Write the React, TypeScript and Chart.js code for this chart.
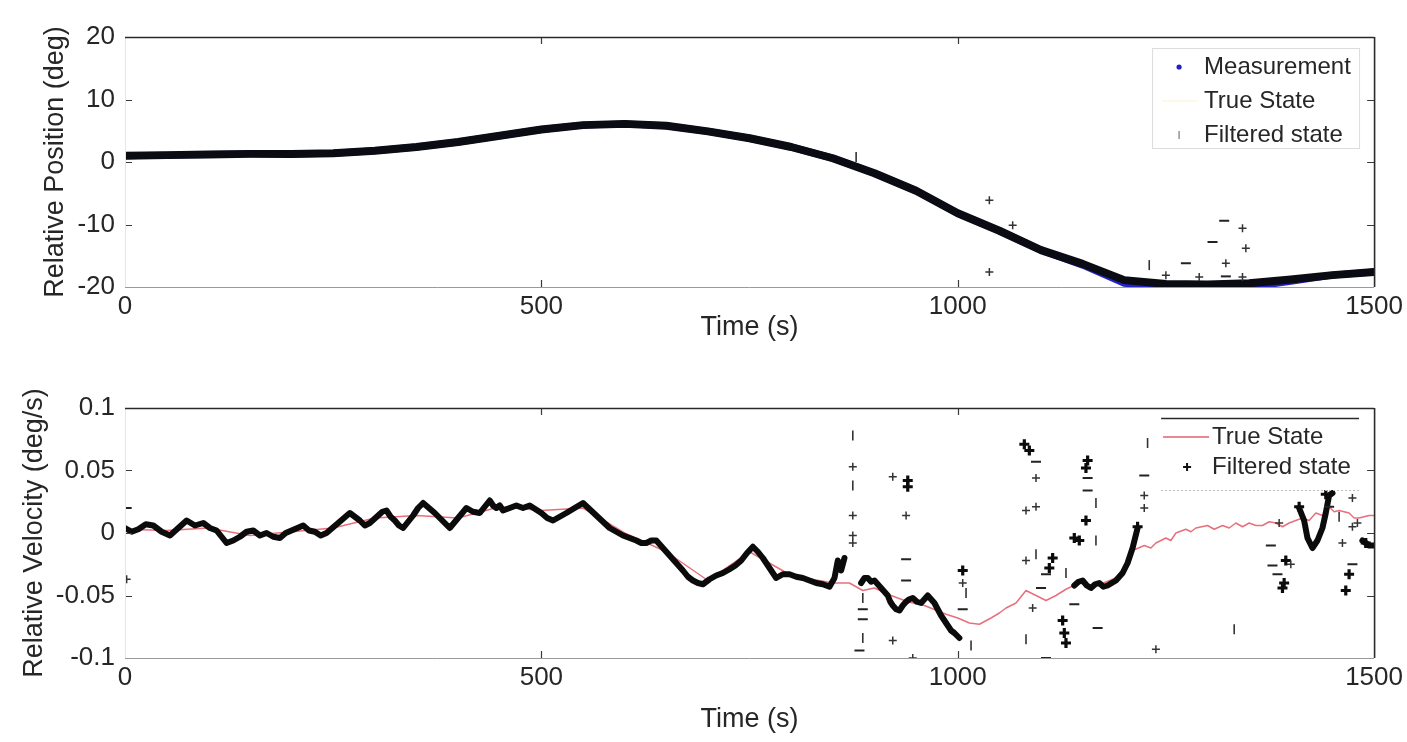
import React, { useEffect, useRef } from "react";
import { Chart, registerables } from "chart.js";

Chart.register(...registerables);

const FONT = '"Liberation Sans", Arial, Helvetica, sans-serif';
const TEXT = "#262626";

// ---------- shared axis ticks ----------
const timeTicks = [0, 500, 1000, 1500];
const timeTickLabels = ["0", "500", "1000", "1500"];
const posTicks = [-20, -10, 0, 10, 20];
const posTickLabels = ["-20", "-10", "0", "10", "20"];
const velTicks = [-0.1, -0.05, 0, 0.05, 0.1];
const velTickLabels = ["-0.1", "-0.05", "0", "0.05", "0.1"];

// ---------- top panel: relative position (deg) ----------
const posTime = [0, 50, 100, 150, 200, 250, 300, 350, 400, 450, 500, 550, 600, 650, 700, 750, 800, 850, 900, 950, 1000, 1050, 1100, 1150, 1200, 1250, 1300, 1350, 1400, 1450, 1500];
const posFiltered = [1.0, 1.1, 1.2, 1.3, 1.3, 1.4, 1.8, 2.4, 3.2, 4.2, 5.2, 5.9, 6.1, 5.8, 4.9, 3.8, 2.4, 0.6, -1.8, -4.6, -8.2, -11.0, -14.1, -16.3, -18.9, -19.5, -19.6, -19.4, -18.8, -18.1, -17.6];
const posMeasured = [1.0, 1.1, 1.2, 1.3, 1.3, 1.4, 1.8, 2.4, 3.2, 4.2, 5.2, 5.9, 6.1, 5.8, 4.9, 3.8, 2.4, 0.6, -1.8, -4.6, -8.2, -11.0, -14.1, -16.5, -19.4, -20.1, -20.2, -20.0, -19.1, -18.1, -17.6];
const posTrue = [1.0, 1.1, 1.2, 1.3, 1.3, 1.4, 1.8, 2.4, 3.2, 4.2, 5.2, 5.9, 6.1, 5.8, 4.9, 3.8, 2.4, 0.6, -1.8, -4.6, -8.2, -11.0, -14.1, -16.3, -19.0, -19.8, -19.9, -19.7, -18.9, -18.1, -17.6];
const posPlusTime = [1038, 1066, 1038, 1250, 1290, 1322, 1342, 1346, 1342];
const posPlusValue = [-6.1, -10.1, -17.6, -18.1, -18.4, -16.2, -10.6, -13.8, -18.4];
const posDashTime = [1306, 1320, 1274, 1322];
const posDashValue = [-12.8, -9.4, -16.2, -18.3];
const posBarTime = [878, 1230];
const posBarValue = [0.8, -16.5];

// ---------- bottom panel: relative velocity (deg/s) ----------
const velBandTime = [0, 8, 16, 25, 34, 44, 54, 64, 74, 84, 94, 102, 110, 116, 122, 130, 138, 146, 154, 162, 170, 178, 186, 193, 200, 207, 214, 221, 228, 235, 242, 249, 256, 263, 270, 276, 282, 288, 294, 299, 304, 309, 314, 319, 324, 329, 334, 340, 346, 352, 358, 365, 372, 381, 390, 395, 400, 405, 410, 418, 426, 432, 438, 442, 446, 450, 454, 462, 470, 478, 486, 493, 500, 507, 514, 522, 530, 540, 550, 558, 566, 574, 582, 590, 598, 606, 614, 620, 626, 632, 638, 646, 654, 662, 670, 676, 682, 688, 694, 702, 710, 718, 726, 733, 740, 747, 754, 760, 766, 774, 782, 790, 798, 806, 814, 822, 830, 838, 846, 852, 856, 860, 864, 870, 884, 888, 892, 896, 900, 904, 908, 912, 916, 919, 922, 926, 930, 934, 938, 942, 946, 951, 956, 960, 964, 968, 972, 976, 980, 984, 988, 992, 996, 1002, 1010, 1140, 1145, 1150, 1155, 1160, 1165, 1170, 1175, 1180, 1185, 1190, 1194, 1198, 1204, 1210, 1216, 1222, 1410, 1416, 1420, 1426, 1432, 1438, 1442, 1446, 1450, 1460, 1486, 1494, 1500];
const velBandValue = [0.004, 0.001, 0.003, 0.007, 0.006, 0.001, -0.002, 0.004, 0.010, 0.006, 0.008, 0.004, 0.002, -0.003, -0.008, -0.006, -0.003, 0.001, 0.002, -0.002, 0.000, -0.003, -0.004, 0.000, 0.002, 0.004, 0.006, 0.002, 0.001, -0.002, 0.000, 0.004, 0.008, 0.012, 0.016, 0.013, 0.010, 0.006, 0.008, 0.011, 0.014, 0.017, 0.018, 0.013, 0.010, 0.006, 0.004, 0.009, 0.014, 0.020, 0.024, 0.020, 0.016, 0.010, 0.004, 0.008, 0.012, 0.016, 0.020, 0.017, 0.016, 0.021, 0.026, 0.022, 0.020, 0.022, 0.018, 0.020, 0.022, 0.020, 0.022, 0.019, 0.016, 0.012, 0.010, 0.013, 0.016, 0.020, 0.024, 0.019, 0.014, 0.009, 0.004, 0.001, -0.002, -0.004, -0.006, -0.008, -0.008, -0.006, -0.006, -0.012, -0.018, -0.024, -0.030, -0.035, -0.038, -0.040, -0.041, -0.037, -0.034, -0.032, -0.029, -0.026, -0.022, -0.016, -0.011, -0.015, -0.020, -0.028, -0.036, -0.033, -0.033, -0.035, -0.036, -0.038, -0.040, -0.041, -0.043, -0.036, -0.022, -0.030, -0.020, null, -0.040, -0.036, -0.036, -0.039, -0.038, -0.041, -0.044, -0.047, -0.050, -0.055, -0.058, -0.061, -0.062, -0.058, -0.055, -0.053, -0.052, -0.055, -0.056, -0.053, -0.050, -0.053, -0.056, -0.061, -0.066, -0.070, -0.074, -0.078, -0.080, -0.084, null, -0.042, -0.039, -0.038, -0.042, -0.044, -0.041, -0.040, -0.043, -0.042, -0.040, -0.038, -0.035, -0.032, -0.024, -0.012, 0.004, null, 0.020, 0.010, -0.004, -0.012, -0.006, 0.004, 0.016, 0.030, 0.032, null, -0.006, -0.010, -0.010];
const velTrueTime = [0, 50, 100, 150, 200, 250, 300, 350, 400, 450, 500, 550, 600, 650, 700, 750, 800, 850, 870, 886, 900, 920, 940, 960, 986, 1000, 1014, 1026, 1040, 1050, 1058, 1070, 1082, 1094, 1106, 1118, 1130, 1146, 1160, 1175, 1190, 1200, 1210, 1224, 1232, 1238, 1250, 1256, 1262, 1274, 1280, 1286, 1300, 1308, 1318, 1326, 1334, 1342, 1350, 1358, 1366, 1374, 1382, 1390, 1398, 1406, 1414, 1422, 1430, 1438, 1446, 1452, 1458, 1470, 1476, 1482, 1494, 1500];
const velTrueValue = [0.003, 0.002, 0.004, -0.002, 0.001, 0.004, 0.012, 0.014, 0.012, 0.021, 0.018, 0.020, 0.000, -0.015, -0.038, -0.015, -0.034, -0.040, -0.040, -0.046, -0.044, -0.050, -0.055, -0.058, -0.065, -0.068, -0.072, -0.073, -0.068, -0.064, -0.060, -0.056, -0.046, -0.050, -0.054, -0.050, -0.045, -0.040, -0.042, -0.040, -0.036, -0.028, -0.014, -0.010, -0.012, -0.008, -0.004, -0.006, 0.000, 0.003, 0.001, 0.004, 0.006, 0.003, 0.006, 0.004, 0.008, 0.005, 0.008, 0.006, 0.006, 0.009, 0.008, 0.005, 0.008, 0.010, 0.012, 0.010, 0.016, 0.014, 0.021, 0.017, 0.018, 0.016, 0.012, 0.012, 0.014, 0.014];
const velPlusTime = [2, 874, 874, 874, 874, 922, 938, 922, 946, 1006, 1094, 1094, 1082, 1082, 1090, 1224, 1224, 1238, 1386, 1400, 1474, 1474, 1462, 1480];
const velPlusValue = [-0.037, 0.053, 0.014, -0.002, -0.008, 0.045, 0.014, -0.086, -0.100, -0.040, 0.044, 0.021, 0.018, -0.022, -0.060, 0.030, 0.020, -0.093, 0.008, -0.025, 0.028, 0.005, -0.008, 0.008];
const velBoldTime = [940, 940, 1006, 1086, 1080, 1114, 1110, 1126, 1128, 1130, 1156, 1154, 1154, 1146, 1140, 1216, 1390, 1392, 1394, 1410, 1470, 1466, 1490, 1442];
const velBoldValue = [0.042, 0.037, -0.030, 0.066, 0.071, -0.020, -0.028, -0.070, -0.080, -0.088, 0.058, 0.052, 0.010, -0.006, -0.004, 0.005, -0.044, -0.040, -0.022, 0.021, -0.033, -0.046, -0.008, 0.031];
const velDashTime = [2, 886, 886, 882, 938, 938, 1006, 1094, 1106, 1100, 1106, 1156, 1156, 1224, 1168, 1376, 1378, 1384, 1446, 1474, 1140];
const velDashValue = [0.020, -0.061, -0.069, -0.094, -0.021, -0.038, -0.061, 0.057, -0.033, -0.044, -0.100, 0.044, 0.034, 0.046, -0.076, -0.010, -0.026, -0.033, 0.021, -0.025, -0.057];
const velBarTime = [874, 874, 886, 886, 1010, 1016, 1094, 1166, 1166, 1130, 1228, 1332, 1458, 1082];
const velBarValue = [0.078, 0.038, -0.052, -0.084, -0.048, -0.090, -0.017, 0.024, -0.006, -0.032, 0.072, -0.077, 0.013, -0.085];

const xy = (ts: number[], vs: (number | null)[]) => ts.map((t, i) => ({ x: t, y: vs[i] }));

function lineSet(label: string, data: any, color: string, width: number, order: number) {
  return {
    label, data, order,
    borderColor: color, backgroundColor: color, borderWidth: width,
    pointRadius: 0, tension: 0, spanGaps: false,
    borderJoinStyle: "round", borderCapStyle: "round",
  };
}
function markSet(label: string, data: any, style: string, radius: number, width: number, color: string, order: number, rotation = 0) {
  return {
    label, data, order, showLine: false,
    pointStyle: style, pointRadius: radius, pointBorderWidth: width, pointRotation: rotation,
    pointBorderColor: color, pointBackgroundColor: color, borderColor: color, backgroundColor: color,
  };
}

const framePlugin = {
  id: "matlabFrame",
  afterDatasetsDraw(chart: any) {
    const { ctx, chartArea: a, scales } = chart;
    ctx.save();
    const L = 7;
    ctx.lineWidth = 1.2;
    ctx.strokeStyle = "#3a3a3a";
    ctx.beginPath();
    for (const t of scales.x.ticks) {
      const px = Math.round(scales.x.getPixelForValue(t.value)) + 0.5;
      if (px <= a.left + 2 || px >= a.right - 2) continue;
      ctx.moveTo(px, a.bottom); ctx.lineTo(px, a.bottom - L);
      ctx.moveTo(px, a.top); ctx.lineTo(px, a.top + L);
    }
    for (const t of scales.y.ticks) {
      const py = Math.round(scales.y.getPixelForValue(t.value)) + 0.5;
      if (py <= a.top + 2 || py >= a.bottom - 2) continue;
      ctx.moveTo(a.left, py); ctx.lineTo(a.left + L, py);
      ctx.moveTo(a.right, py); ctx.lineTo(a.right - L, py);
    }
    ctx.stroke();
    const seg = (x1: number, y1: number, x2: number, y2: number, c: string, w: number) => {
      ctx.beginPath(); ctx.strokeStyle = c; ctx.lineWidth = w;
      ctx.moveTo(x1, y1); ctx.lineTo(x2, y2); ctx.stroke();
    };
    seg(a.left, a.bottom + 0.5, a.right, a.bottom + 0.5, "#9a9a9a", 1);
    seg(a.left + 0.5, a.top, a.left + 0.5, a.bottom, "#e6e6e6", 1);
    seg(a.left, a.top + 0.5, a.right, a.top + 0.5, "#2a2a2a", 1.6);
    seg(a.right + 0.5, a.top, a.right + 0.5, a.bottom, "#2a2a2a", 1.6);
    ctx.restore();
  },
};

const topLegend = {
  id: "topLegend",
  afterDraw(chart: any) {
    const { ctx, chartArea: a } = chart;
    const x0 = a.right - 222, y0 = a.top + 11, w = 207, h = 100;
    ctx.save();
    ctx.fillStyle = "#fff";
    ctx.fillRect(x0, y0, w, h);
    ctx.strokeStyle = "#dcdcdc"; ctx.lineWidth = 1;
    ctx.strokeRect(x0 + 0.5, y0 + 0.5, w, h);
    ctx.font = `24px ${FONT}`;
    ctx.textBaseline = "middle";
    ctx.fillStyle = TEXT;
    const tx = x0 + 52;
    const rows = [y0 + 19, y0 + 53, y0 + 87];
    ctx.fillText("Measurement", tx, rows[0]);
    ctx.fillText("True State", tx, rows[1]);
    ctx.fillText("Filtered state", tx, rows[2]);
    ctx.fillStyle = "#2020c8";
    ctx.beginPath(); ctx.arc(x0 + 27, rows[0], 2.6, 0, Math.PI * 2); ctx.fill();
    ctx.strokeStyle = "rgba(250,235,170,0.6)"; ctx.lineWidth = 1;
    ctx.beginPath(); ctx.moveTo(x0 + 10, rows[1]); ctx.lineTo(x0 + 45, rows[1]); ctx.stroke();
    ctx.strokeStyle = "#777"; ctx.lineWidth = 1.2;
    ctx.beginPath(); ctx.moveTo(x0 + 27, rows[2] - 4); ctx.lineTo(x0 + 27, rows[2] + 4); ctx.stroke();
    ctx.restore();
  },
};

const bottomLegend = {
  id: "bottomLegend",
  afterDraw(chart: any) {
    const { ctx, chartArea: a } = chart;
    const x0 = a.right - 213, y0 = a.top + 10, w = 198, h = 72;
    ctx.save();
    ctx.fillStyle = "#fff";
    ctx.fillRect(x0, y0, w, h);
    ctx.strokeStyle = "#2a2a2a"; ctx.lineWidth = 1.5;
    ctx.beginPath(); ctx.moveTo(x0, y0 + 0.5); ctx.lineTo(x0 + w, y0 + 0.5); ctx.stroke();
    ctx.strokeStyle = "#bdbdbd"; ctx.lineWidth = 1; ctx.setLineDash([2, 2]);
    ctx.beginPath(); ctx.moveTo(x0, y0 + h + 0.5); ctx.lineTo(x0 + w, y0 + h + 0.5); ctx.stroke();
    ctx.setLineDash([]);
    const r1 = y0 + 19, r2 = y0 + 49;
    ctx.strokeStyle = "#e0606e"; ctx.lineWidth = 1.6;
    ctx.beginPath(); ctx.moveTo(x0 + 2, r1); ctx.lineTo(x0 + 48, r1); ctx.stroke();
    ctx.strokeStyle = "#111"; ctx.lineWidth = 2;
    ctx.beginPath();
    ctx.moveTo(x0 + 22, r2); ctx.lineTo(x0 + 30, r2);
    ctx.moveTo(x0 + 26, r2 - 4); ctx.lineTo(x0 + 26, r2 + 4);
    ctx.stroke();
    ctx.font = `24px ${FONT}`;
    ctx.textBaseline = "middle";
    ctx.fillStyle = TEXT;
    ctx.fillText("True State", x0 + 51, r1);
    ctx.fillText("Filtered state", x0 + 51, r2);
    ctx.restore();
  },
};

function makeScales(yTicks: number[], yLabels: string[], yMin: number, yMax: number, yTitle: string, xTitlePad: number, yTitlePad: number) {
  const tickFont = { family: FONT, size: 26 };
  const titleFont = { family: FONT, size: 27 };
  return {
    x: {
      type: "linear", min: 0, max: 1500,
      afterBuildTicks: (s: any) => { s.ticks = timeTicks.map((v) => ({ value: v })); },
      afterFit: (s: any) => { s.height = 84; },
      grid: { display: false, drawTicks: false },
      border: { display: false },
      ticks: { autoSkip: false, maxRotation: 0, font: tickFont, color: TEXT, padding: 4, callback: (_v: any, i: number) => timeTickLabels[i] },
      title: { display: true, text: "Time (s)", font: titleFont, color: TEXT, padding: { top: 0, bottom: xTitlePad } },
    },
    y: {
      type: "linear", min: yMin, max: yMax,
      afterBuildTicks: (s: any) => { s.ticks = yTicks.map((v) => ({ value: v })); },
      afterFit: (s: any) => { s.width = 125; },
      grid: { display: false, drawTicks: false },
      border: { display: false },
      ticks: { autoSkip: false, font: tickFont, color: TEXT, padding: 10, callback: (_v: any, i: number) => yLabels[i] },
      title: { display: true, text: yTitle, font: titleFont, color: TEXT, padding: { top: yTitlePad, bottom: 0 } },
    },
  };
}

function baseOptions(scales: any) {
  return {
    responsive: false,
    animation: false,
    events: [],
    layout: { padding: { top: 37, right: 32, left: 0, bottom: 0 } },
    plugins: { legend: { display: false }, tooltip: { enabled: false } },
    scales,
  };
}

export default function App() {
  const topRef = useRef<HTMLCanvasElement | null>(null);
  const botRef = useRef<HTMLCanvasElement | null>(null);

  useEffect(() => {
    const top = new Chart(topRef.current as HTMLCanvasElement, {
      type: "line",
      data: {
        datasets: [
          markSet("Filtered state +", xy(posPlusTime, posPlusValue), "cross", 4, 1.5, "#333", 0),
          markSet("Filtered state -", xy(posDashTime, posDashValue), "line", 5, 2, "#222", 0),
          markSet("Filtered state |", xy(posBarTime, posBarValue), "line", 5, 1.6, "#333", 0, 90),
          lineSet("Filtered state", xy(posTime, posFiltered), "#0b0b14", 8, 1),
          lineSet("Measurement", xy(posTime, posMeasured), "#2323c8", 7, 2),
          lineSet("True State", xy(posTime, posTrue), "rgba(250,235,170,0.4)", 1, 3),
        ] as any,
      },
      options: baseOptions(makeScales(posTicks, posTickLabels, -20, 20, "Relative Position (deg)", 27, 39)) as any,
      plugins: [framePlugin, topLegend],
    });

    const bot = new Chart(botRef.current as HTMLCanvasElement, {
      type: "line",
      data: {
        datasets: [
          markSet("Filtered state +", xy(velPlusTime, velPlusValue), "cross", 4, 1.5, "#333", 0),
          markSet("Filtered state *", xy(velBoldTime, velBoldValue), "cross", 5, 3.2, "#0b0b0b", 0),
          markSet("Filtered state -", xy(velDashTime, velDashValue), "line", 5, 2, "#222", 0),
          markSet("Filtered state |", xy(velBarTime, velBarValue), "line", 5, 1.6, "#333", 0, 90),
          lineSet("Filtered state", xy(velBandTime, velBandValue), "#0b0b0b", 6, 1),
          lineSet("True State", xy(velTrueTime, velTrueValue), "#e8707c", 1.5, 2),
        ] as any,
      },
      options: baseOptions(makeScales(velTicks, velTickLabels, -0.1, 0.1, "Relative Velocity (deg/s)", 6, 18)) as any,
      plugins: [framePlugin, bottomLegend],
    });

    return () => { top.destroy(); bot.destroy(); };
  }, []);

  return (
    <div style={{ position: "absolute", left: 0, top: 0, width: 1407, height: 742, background: "#fff" }}>
      <canvas ref={topRef} width={1407} height={371} style={{ display: "block", width: 1407, height: 371 }} />
      <canvas ref={botRef} width={1407} height={371} style={{ display: "block", width: 1407, height: 371 }} />
    </div>
  );
}
